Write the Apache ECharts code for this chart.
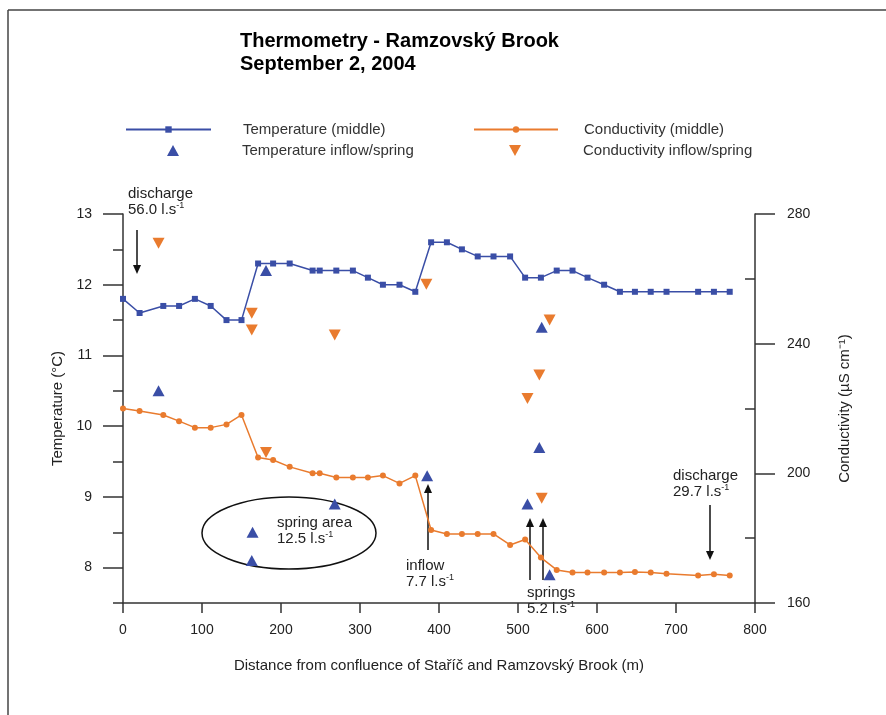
<!DOCTYPE html>
<html>
<head>
<meta charset="utf-8">
<script src="https://cdn.jsdelivr.net/npm/echarts@6/dist/echarts.min.js"></script>
<style>
  html, body { margin: 0; padding: 0; background: #fff; }
  #chart { width: 886px; height: 715px; }
</style>
</head>
<body>
<div id="chart"></div>
<script>
// distance along the brook (m), middle-of-stream measurements
const distMid = [0, 21, 51, 71, 91, 111, 131, 150, 171, 190, 211, 240, 249, 270, 291, 310, 329, 350, 370,
  390, 410, 429, 449, 469, 490, 509, 529, 549, 569, 588, 609, 629, 648, 668, 688, 728, 748, 768];
const tempMid = [11.8, 11.6, 11.7, 11.7, 11.8, 11.7, 11.5, 11.5, 12.3, 12.3, 12.3, 12.2, 12.2, 12.2, 12.2, 12.1, 12.0, 12.0, 11.9,
  12.6, 12.6, 12.5, 12.4, 12.4, 12.4, 12.1, 12.1, 12.2, 12.2, 12.1, 12.0, 11.9, 11.9, 11.9, 11.9, 11.9, 11.9, 11.9];
const condMid = [220, 219.2, 218, 216.1, 214.1, 214.1, 215.1, 218, 204.9, 204.1, 202, 200, 200, 198.7, 198.7, 198.7, 199.3, 196.9, 199.3,
  182.5, 181.3, 181.3, 181.3, 181.3, 177.9, 179.6, 174, 170.2, 169.4, 169.4, 169.4, 169.4, 169.6, 169.4, 169, 168.5, 168.9, 168.5];

// inflows / springs
const distTempSpring = [45, 163, 164, 181, 268, 385, 512, 527, 530, 540];
const tempSpring = [10.5, 8.1, 8.5, 12.2, 8.9, 9.3, 8.9, 9.7, 11.4, 7.9];
const distCondSpring = [45, 163, 163, 181, 268, 384, 512, 527, 530, 540];
const condSpring = [271, 249.4, 244.2, 206.4, 242.7, 258.3, 223.1, 230.3, 192.3, 247.3];

const xTicks = { min: 0, max: 800, step: 100 };
const tempTicks = [8, 9, 10, 11, 12, 13];
const condMinorTicks = [180, 220, 260];

const blue = '#3a4ea6';
const orange = '#e97b2e';
const ink = '#222';
const font = 'Liberation Sans, Arial, sans-serif';

const zip = (xs, ys) => xs.map((x, i) => [x, ys[i]]);
const downTri = 'path://M0,0 L10,0 L5,9 Z';

var myChart = echarts.init(document.getElementById('chart'));

// annotation helpers (pixel layout of the callouts)
function arrow(x, y1, y2) {
  const dir = y2 > y1 ? 1 : -1;
  return [
    { type: 'line', shape: { x1: x, y1: y1, x2: x, y2: y2 - dir * 6 }, style: { stroke: '#111', lineWidth: 1.5 } },
    { type: 'polygon', shape: { points: [[x - 4, y2 - dir * 9], [x + 4, y2 - dir * 9], [x, y2]] }, style: { fill: '#111' } },
  ];
}
const richTxt = {
  t: { fontSize: 15, fontFamily: font, fill: ink, lineHeight: 16 },
  s: { fontSize: 9, fontFamily: font, fill: ink, verticalAlign: 'top', padding: [0, 0, 6, 0], lineHeight: 16 },
};
function callout(x, y, word, flow) {
  return {
    type: 'text', left: x, top: y,
    style: { text: '{t|' + word + '}\n{t|' + flow + ' l.s}{s|-1}', rich: richTxt },
  };
}

const legendText = pad => ({ fontFamily: font, fontSize: 15, color: '#333', padding: [0, 0, 0, pad] });

const option = {
  animation: false,
  backgroundColor: '#fff',
  title: {
    text: 'Thermometry - Ramzovský Brook\nSeptember 2, 2004',
    left: 240,
    top: 30,
    padding: 0,
    textStyle: { fontFamily: font, fontSize: 20, fontWeight: 'bold', color: '#000', lineHeight: 23 },
  },
  legend: [
    { data: ['Temperature (middle)'], left: 125, top: 122, itemWidth: 85, itemHeight: 8, padding: 0,
      textStyle: legendText(27) },
    { data: ['Temperature inflow/spring'], left: 167, top: 143, itemWidth: 12, itemHeight: 11, padding: 0,
      textStyle: legendText(58) },
    { data: ['Conductivity (middle)'], left: 473, top: 122, itemWidth: 84, itemHeight: 8, padding: 0,
      textStyle: legendText(21) },
    { data: ['Conductivity inflow/spring'], left: 509, top: 143, itemWidth: 12, itemHeight: 11, padding: 0,
      textStyle: legendText(57) },
  ],
  grid: { left: 123, right: 131, top: 214, bottom: 112 },
  xAxis: {
    type: 'value',
    min: xTicks.min,
    max: xTicks.max,
    interval: xTicks.step,
    name: 'Distance from confluence of Staříč and Ramzovský Brook (m)',
    nameLocation: 'middle',
    nameGap: 55,
    nameTextStyle: { fontFamily: font, fontSize: 15, color: ink },
    axisLine: { lineStyle: { color: '#333', width: 1.5 } },
    axisTick: { length: 10, lineStyle: { color: '#333', width: 1.5 } },
    axisLabel: { fontFamily: font, fontSize: 14, color: ink, margin: 20 },
    splitLine: { show: false },
  },
  yAxis: [
    {
      type: 'value', position: 'left', min: 7.5, max: 13, interval: 0.5,
      name: 'Temperature (°C)',
      nameLocation: 'middle',
      nameGap: 58,
      nameTextStyle: { fontFamily: font, fontSize: 15, color: ink },
      axisLine: { show: true, lineStyle: { color: '#333', width: 1.5 } },
      axisTick: { show: true, length: 10, lineStyle: { color: '#333', width: 1.5 } },
      axisLabel: {
        fontFamily: font, fontSize: 14, color: ink, margin: 31,
        formatter: v => (tempTicks.indexOf(v) >= 0 ? String(v) : ''),
      },
      splitLine: { show: false },
    },
    {
      type: 'value', position: 'right', min: 160, max: 280, interval: 40,
      name: 'Conductivity (µS cm⁻¹)',
      nameLocation: 'middle',
      nameGap: 82,
      nameTextStyle: { fontFamily: font, fontSize: 15, color: ink },
      axisLine: { show: true, lineStyle: { color: '#333', width: 1.5 } },
      axisTick: { show: true, length: 20, lineStyle: { color: '#333', width: 1.5 } },
      axisLabel: { fontFamily: font, fontSize: 14, color: ink, margin: 32 },
      splitLine: { show: false },
    },
    {
      // long integer ticks on the temperature axis
      type: 'value', position: 'left', min: 7.5, max: 13, interval: 0.5,
      axisLine: { show: false },
      axisTick: { show: true, length: 20, customValues: tempTicks, lineStyle: { color: '#333', width: 1.5 } },
      axisLabel: { show: false },
      splitLine: { show: false },
    },
    {
      // short inward ticks on the conductivity axis
      type: 'value', position: 'right', min: 160, max: 280, interval: 20,
      axisLine: { show: false },
      axisTick: { show: true, inside: true, length: 10, customValues: condMinorTicks, lineStyle: { color: '#333', width: 1.5 } },
      axisLabel: { show: false },
      splitLine: { show: false },
    },
  ],
  series: [
    {
      name: 'Temperature (middle)',
      type: 'line',
      yAxisIndex: 0,
      data: zip(distMid, tempMid),
      symbol: 'rect',
      symbolSize: 6,
      showAllSymbol: true,
      itemStyle: { color: blue, opacity: 1 },
      lineStyle: { color: blue, width: 1.5 },
      z: 3,
    },
    {
      name: 'Temperature inflow/spring',
      type: 'scatter',
      yAxisIndex: 0,
      data: zip(distTempSpring, tempSpring),
      symbol: 'triangle',
      symbolSize: [12, 11],
      itemStyle: { color: blue, opacity: 1 },
      z: 4,
    },
    {
      name: 'Conductivity (middle)',
      type: 'line',
      yAxisIndex: 1,
      data: zip(distMid, condMid),
      symbol: 'circle',
      symbolSize: 6,
      showAllSymbol: true,
      itemStyle: { color: orange, opacity: 1 },
      lineStyle: { color: orange, width: 1.5 },
      z: 3,
    },
    {
      name: 'Conductivity inflow/spring',
      type: 'scatter',
      yAxisIndex: 1,
      data: zip(distCondSpring, condSpring),
      symbol: downTri,
      symbolSize: [12, 11],
      itemStyle: { color: orange, opacity: 1 },
      z: 4,
    },
  ],
  graphic: [
    // figure frame
    { type: 'line', shape: { x1: 8, y1: 10, x2: 886, y2: 10 }, style: { stroke: '#444', lineWidth: 1.5 } },
    { type: 'line', shape: { x1: 8, y1: 10, x2: 8, y2: 715 }, style: { stroke: '#444', lineWidth: 1.5 } },
    // spring area ellipse
    { type: 'ellipse', shape: { cx: 289, cy: 533, rx: 87, ry: 36 }, style: { fill: 'none', stroke: '#111', lineWidth: 1.5 } },
    callout(277, 515, 'spring area', '12.5'),
    callout(128, 186, 'discharge', '56.0'),
    ...arrow(137, 230, 274),
    callout(406, 558, 'inflow', '7.7'),
    ...arrow(428, 550, 484),
    callout(527, 585, 'springs', '5.2'),
    ...arrow(530, 580, 518),
    ...arrow(543, 580, 518),
    callout(673, 468, 'discharge', '29.7'),
    ...arrow(710, 505, 560),
  ],
};

myChart.setOption(option);
</script>
</body>
</html>
